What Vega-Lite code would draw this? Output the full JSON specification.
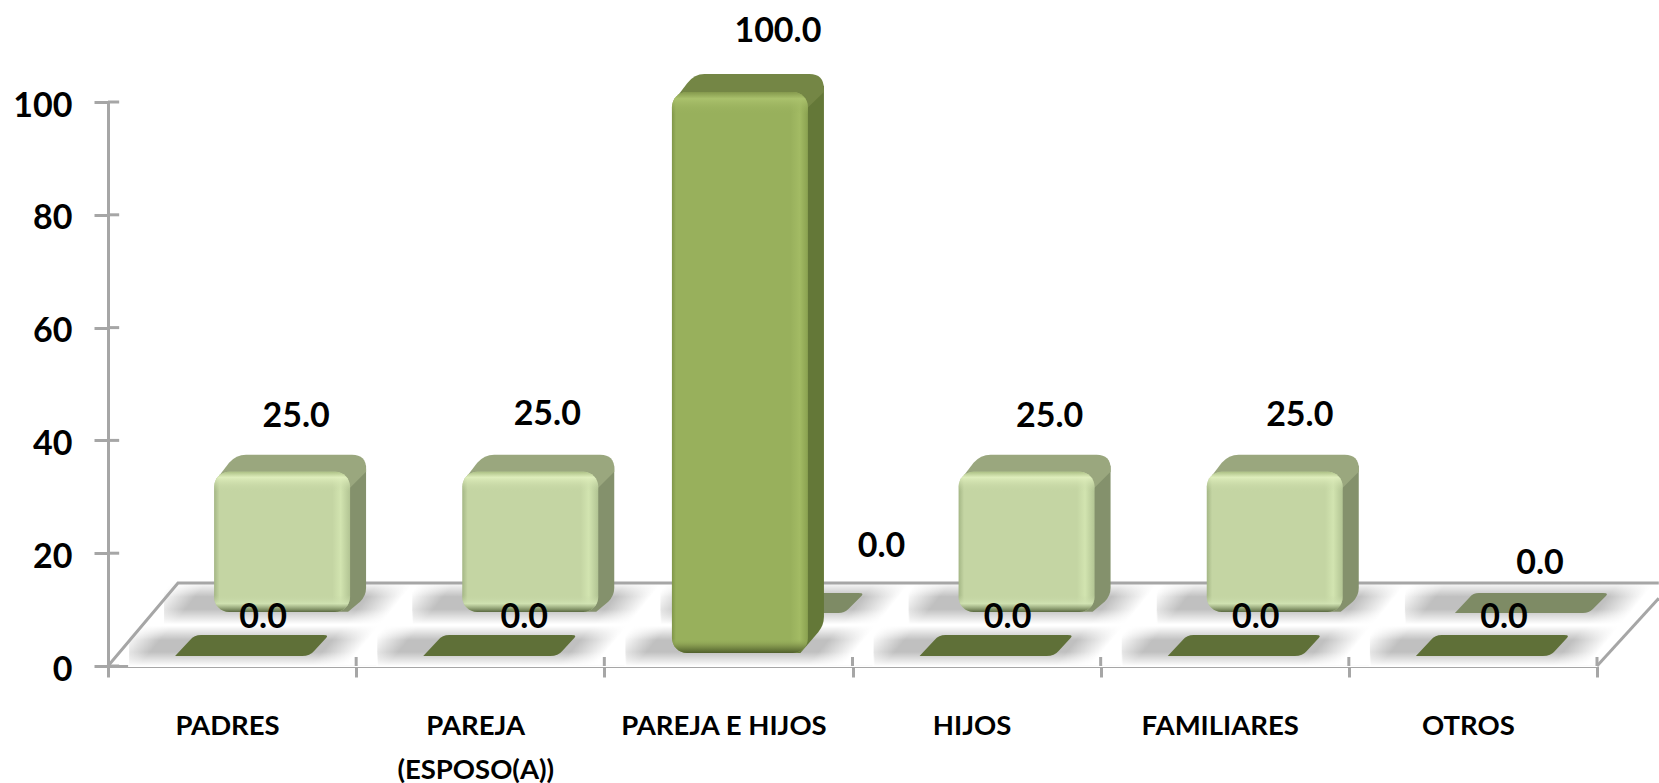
{
"$schema":"https://vega.github.io/schema/vega-lite/v6.json",
"width":1489,"height":564,
"autosize":{"type":"none"},
"padding":{"left":108,"top":102,"right":62,"bottom":117},
"background":"white",
"config":{"view":{"stroke":null}},
"datasets":{
"barras":[
{"cat":"PADRES","serie":"Fila delantera","valor":0},
{"cat":"PAREJA (ESPOSO(A))","serie":"Fila delantera","valor":0},
{"cat":"PAREJA E HIJOS","serie":"Fila delantera","valor":100},
{"cat":"HIJOS","serie":"Fila delantera","valor":0},
{"cat":"FAMILIARES","serie":"Fila delantera","valor":0},
{"cat":"OTROS","serie":"Fila delantera","valor":0},
{"cat":"PADRES","serie":"Fila trasera","valor":25},
{"cat":"PAREJA (ESPOSO(A))","serie":"Fila trasera","valor":25},
{"cat":"PAREJA E HIJOS","serie":"Fila trasera","valor":0},
{"cat":"HIJOS","serie":"Fila trasera","valor":25},
{"cat":"FAMILIARES","serie":"Fila trasera","valor":25},
{"cat":"OTROS","serie":"Fila trasera","valor":0}
],
"suelo":[
{"borde":"fondo","fx":0,"fy":0},
{"borde":"fondo","fx":0.282,"fy":14.7},
{"borde":"fondo","fx":6.249,"fy":14.7},
{"borde":"derecha","fx":6,"fy":0},
{"borde":"derecha","fx":6.249,"fy":12}
],
"marcas":[
{"fx":0,"fx2":0.045,"fy":0,"fy2":0},
{"fx":0,"fx2":0.045,"fy":20,"fy2":20},
{"fx":0,"fx2":0.045,"fy":40,"fy2":40},
{"fx":0,"fx2":0.045,"fy":60,"fy2":60},
{"fx":0,"fx2":0.045,"fy":80,"fy2":80},
{"fx":0,"fx2":0.045,"fy":100,"fy2":100},
{"fx":1,"fx2":1,"fy":0,"fy2":1.6},
{"fx":2,"fx2":2,"fy":0,"fy2":1.6},
{"fx":3,"fx2":3,"fy":0,"fy2":1.6},
{"fx":4,"fx2":4,"fy":0,"fy2":1.6},
{"fx":5,"fx2":5,"fy":0,"fy2":1.6},
{"fx":6,"fx2":6,"fy":0,"fy2":1.6}
]
},
"data":{"name":"barras"},
"resolve":{"scale":{"x":"independent","y":"independent"},"axis":{"x":"independent","y":"independent"}},
"layer":[
{
"encoding":{
"x":{"field":"cat","type":"nominal","sort":null,"scale":{"type":"band","domain":["PADRES","PAREJA (ESPOSO(A))","PAREJA E HIJOS","HIJOS","FAMILIARES","OTROS"],"paddingInner":0,"paddingOuter":0},"axis":null},
"y":{"datum":0,"type":"quantitative","scale":{"domain":[0,100],"nice":false},"axis":null}
},
"layer":[
{"transform":[{"filter":"datum.serie == 'Fila trasera'"}],
"mark":{"type":"point","filled":true,"opacity":1,"size":4,"shape":"M-68,-84L180,-84L180,-42L-68,-42Z","fill":{"gradient":"linear","x1":0,"y1":0,"x2":1,"y2":0.134,"stops":[{"offset":0.03,"color":"rgba(192,192,192,0)"},{"offset":0.17,"color":"rgba(192,192,192,1)"},{"offset":0.85,"color":"rgba(192,192,192,1)"},{"offset":0.99,"color":"rgba(192,192,192,0)"}]}}},
{"transform":[{"filter":"datum.serie == 'Fila delantera'"}],
"mark":{"type":"point","filled":true,"opacity":1,"size":4,"shape":"M-103,-40L145,-40L145,0L-103,0Z","fill":{"gradient":"linear","x1":0,"y1":0,"x2":1,"y2":0.134,"stops":[{"offset":0.03,"color":"rgba(192,192,192,0)"},{"offset":0.17,"color":"rgba(192,192,192,1)"},{"offset":0.85,"color":"rgba(192,192,192,1)"},{"offset":0.99,"color":"rgba(192,192,192,0)"}]}}},
{"transform":[{"filter":"datum.serie == 'Fila trasera'"}],
"mark":{"type":"point","filled":true,"opacity":1,"size":4,"shape":"M-69,-85L181,-85L181,-41L-69,-41Z","fill":{"gradient":"linear","x1":0,"y1":0,"x2":0,"y2":1,"stops":[{"offset":0.02,"color":"rgba(255,255,255,1)"},{"offset":0.36,"color":"rgba(255,255,255,0)"},{"offset":0.64,"color":"rgba(255,255,255,0)"},{"offset":0.98,"color":"rgba(255,255,255,1)"}]}}},
{"transform":[{"filter":"datum.serie == 'Fila delantera'"}],
"mark":{"type":"point","filled":true,"opacity":1,"size":4,"shape":"M-104,-41L146,-41L146,1L-104,1Z","fill":{"gradient":"linear","x1":0,"y1":0,"x2":0,"y2":1,"stops":[{"offset":0.02,"color":"rgba(255,255,255,1)"},{"offset":0.36,"color":"rgba(255,255,255,0)"},{"offset":0.64,"color":"rgba(255,255,255,0)"},{"offset":0.98,"color":"rgba(255,255,255,1)"}]}}}
]
},
{
"data":{"name":"suelo"},
"mark":{"type":"line","color":"#a6a6a6","strokeWidth":3,"clip":false},
"encoding":{
"x":{"field":"fx","type":"quantitative","scale":{"domain":[0,6],"nice":false,"zero":false},"axis":null},
"y":{"field":"fy","type":"quantitative","scale":{"domain":[0,100],"nice":false},
"axis":{"title":null,"values":[0,20,40,60,80,100],"grid":false,"domainColor":"#a6a6a6","domainWidth":3,"tickColor":"#a6a6a6","tickWidth":3,"tickSize":14,"labelPadding":22,"labelOffset":4,"labelFont":"Lato","labelFontWeight":"bold","labelFontSize":34,"labelColor":"#000000"}},
"detail":{"field":"borde"}
}
},
{
"encoding":{
"x":{"field":"cat","type":"nominal","sort":null,
"scale":{"type":"band","domain":["PADRES","PAREJA (ESPOSO(A))","PAREJA E HIJOS","HIJOS","FAMILIARES","OTROS"],"paddingInner":0,"paddingOuter":0},
"axis":{"title":null,"labelAngle":0,"tickBand":"extent","domainColor":"#a6a6a6","domainWidth":3,"tickColor":"#a6a6a6","tickWidth":3,"tickSize":11,"labelPadding":35,"labelOffset":-5,"labelFont":"Lato","labelFontWeight":"bold","labelFontSize":27.5,"labelColor":"#000000","labelLimit":400,"labelOverlap":false,"labelLineHeight":44,
"labelExpr":"datum.label == 'PAREJA (ESPOSO(A))' ? ['PAREJA','(ESPOSO(A))'] : datum.label"}}
},
"resolve":{"scale":{"y":"independent"},"axis":{"y":"independent"}},
"layer":[
{
"encoding":{"y":{"field":"valor","type":"quantitative","stack":null,"scale":{"domain":[-9.63,90.9],"nice":false,"zero":false},"axis":null}},
"layer":[
{"transform":[{"filter":"datum.serie == 'Fila trasera' && datum.valor == 0"}],
"mark":{"type":"point","filled":true,"opacity":1,"size":4,"fill":"#7e8b65","shape":"M-18,1L-3,-15Q0,-19 6,-19L130,-19Q136,-19 133,-16L120,-3Q116,1 110,1L-14,1Q-20,1 -18,1Z"}},
{"transform":[{"filter":"datum.serie == 'Fila trasera' && datum.valor > 0"}],
"mark":{"type":"point","filled":true,"opacity":1,"size":4,"fill":"#84916c","shape":"M112,8L126,-10L134,-6L134,116Q134,124 128,130L116,140L105,140Z"}},
{"transform":[{"filter":"datum.serie == 'Fila trasera' && datum.valor > 0"}],
"mark":{"type":"point","filled":true,"opacity":1,"size":4,"fill":"#9aa77e","shape":"M-16,8L-3,-9Q4,-17 14,-17L120,-17Q134,-17 134,-3L134,0L118,16L-10,16Z"}},
{"transform":[{"filter":"datum.serie == 'Fila trasera' && datum.valor > 0"}],
"mark":{"type":"bar","width":136,"xOffset":50,"cornerRadius":15,"fill":{"gradient":"linear","x1":0,"y1":0,"x2":1,"y2":0,"stops":[{"offset":0,"color":"#a4b685"},{"offset":0.04,"color":"#c4d5a3"},{"offset":0.87,"color":"#c4d5a3"},{"offset":0.93,"color":"#d2e4b0"},{"offset":1,"color":"#b2c493"}]}}},
{"transform":[{"filter":"datum.serie == 'Fila trasera' && datum.valor > 0"}],
"mark":{"type":"bar","width":136,"xOffset":50,"cornerRadius":15,"fill":{"gradient":"linear","x1":0,"y1":0,"x2":0,"y2":1,"stops":[{"offset":0,"color":"rgba(170,190,130,0.9)"},{"offset":0.04,"color":"rgba(225,240,190,0.9)"},{"offset":0.14,"color":"rgba(196,213,163,0)"},{"offset":0.88,"color":"rgba(196,213,163,0)"},{"offset":0.94,"color":"rgba(210,228,180,0.8)"},{"offset":1,"color":"rgba(85,100,60,0.95)"}]}}}
]
},
{
"encoding":{"y":{"field":"valor","type":"quantitative","stack":null,"scale":{"domain":[-2.32,98.21],"nice":false,"zero":false},"axis":null}},
"layer":[
{"transform":[{"filter":"datum.serie == 'Fila delantera' && datum.valor == 0"}],
"mark":{"type":"point","filled":true,"opacity":1,"size":4,"fill":"#5f7038","shape":"M-57,3L-42,-13Q-38,-18 -31,-18L91,-18Q97,-18 94,-15L82,-2Q78,3 70,3L-53,3Q-59,3 -57,3Z"}},
{"transform":[{"filter":"datum.serie == 'Fila delantera' && datum.valor > 0"}],
"mark":{"type":"point","filled":true,"opacity":1,"size":4,"fill":"#647838","shape":"M73,8L88,-10L95.5,-6L95.5,525Q95.5,533 90,540L72,561L60,561Z"}},
{"transform":[{"filter":"datum.serie == 'Fila delantera' && datum.valor > 0"}],
"mark":{"type":"point","filled":true,"opacity":1,"size":4,"fill":"#748645","shape":"M-54,8L-41,-9Q-34,-18 -24,-18L81,-18Q95.5,-18 95.5,-3L95.5,0L79,16L-48,16Z"}},
{"transform":[{"filter":"datum.serie == 'Fila delantera' && datum.valor > 0"}],
"mark":{"type":"bar","width":136,"xOffset":11.5,"cornerRadius":15,"fill":{"gradient":"linear","x1":0,"y1":0,"x2":1,"y2":0,"stops":[{"offset":0,"color":"#7f9548"},{"offset":0.03,"color":"#98b05c"},{"offset":0.87,"color":"#98b05c"},{"offset":0.94,"color":"#a3bb64"},{"offset":1,"color":"#8aa150"}]}}},
{"transform":[{"filter":"datum.serie == 'Fila delantera' && datum.valor > 0"}],
"mark":{"type":"bar","width":136,"xOffset":11.5,"cornerRadius":15,"fill":{"gradient":"linear","x1":0,"y1":0,"x2":0,"y2":1,"stops":[{"offset":0,"color":"rgba(130,150,75,0.9)"},{"offset":0.012,"color":"rgba(172,195,110,0.9)"},{"offset":0.04,"color":"rgba(152,176,92,0)"},{"offset":0.975,"color":"rgba(152,176,92,0)"},{"offset":0.985,"color":"rgba(135,155,80,0.8)"},{"offset":1,"color":"rgba(75,90,40,0.95)"}]}}}
]
},
{
"encoding":{
"y":{"field":"valor","type":"quantitative","stack":null,"scale":{"domain":[0,100],"nice":false},"axis":null},
"text":{"field":"valor","type":"quantitative","format":".1f"}
},
"layer":[
{"transform":[{"filter":"datum.valor == 100"}],"mark":{"type":"text","font":"Lato","fontWeight":"bold","fontSize":34,"color":"#000","baseline":"middle","dx":49.5,"dy":-70}},
{"transform":[{"filter":"datum.cat == 'PADRES' && datum.valor == 25"}],"mark":{"type":"text","font":"Lato","fontWeight":"bold","fontSize":34,"color":"#000","baseline":"middle","dx":64,"dy":-108}},
{"transform":[{"filter":"datum.cat == 'PAREJA (ESPOSO(A))' && datum.valor == 25"}],"mark":{"type":"text","font":"Lato","fontWeight":"bold","fontSize":34,"color":"#000","baseline":"middle","dx":67,"dy":-110}},
{"transform":[{"filter":"datum.cat == 'HIJOS' && datum.valor == 25"}],"mark":{"type":"text","font":"Lato","fontWeight":"bold","fontSize":34,"color":"#000","baseline":"middle","dx":73,"dy":-108}},
{"transform":[{"filter":"datum.cat == 'FAMILIARES' && datum.valor == 25"}],"mark":{"type":"text","font":"Lato","fontWeight":"bold","fontSize":34,"color":"#000","baseline":"middle","dx":75,"dy":-109}},
{"transform":[{"filter":"datum.serie == 'Fila delantera' && datum.valor == 0 && datum.cat != 'PAREJA (ESPOSO(A))'"}],"mark":{"type":"text","font":"Lato","fontWeight":"bold","fontSize":34,"color":"#000","baseline":"middle","dx":31,"dy":-48}},
{"transform":[{"filter":"datum.serie == 'Fila delantera' && datum.cat == 'PAREJA (ESPOSO(A))'"}],"mark":{"type":"text","font":"Lato","fontWeight":"bold","fontSize":34,"color":"#000","baseline":"middle","dx":44,"dy":-48}},
{"transform":[{"filter":"datum.serie == 'Fila trasera' && datum.cat == 'PAREJA E HIJOS'"}],"mark":{"type":"text","font":"Lato","fontWeight":"bold","fontSize":34,"color":"#000","baseline":"middle","dx":153,"dy":-119}},
{"transform":[{"filter":"datum.serie == 'Fila trasera' && datum.cat == 'OTROS'"}],"mark":{"type":"text","font":"Lato","fontWeight":"bold","fontSize":34,"color":"#000","baseline":"middle","dx":67,"dy":-102}}
]
}
]
},
{
"data":{"name":"marcas"},
"mark":{"type":"rule","color":"#a6a6a6","strokeWidth":3},
"encoding":{
"x":{"field":"fx","type":"quantitative","scale":{"domain":[0,6],"nice":false,"zero":false},"axis":null},
"x2":{"field":"fx2"},
"y":{"field":"fy","type":"quantitative","scale":{"domain":[0,100],"nice":false},"axis":null},
"y2":{"field":"fy2"}
}
}
]
}
